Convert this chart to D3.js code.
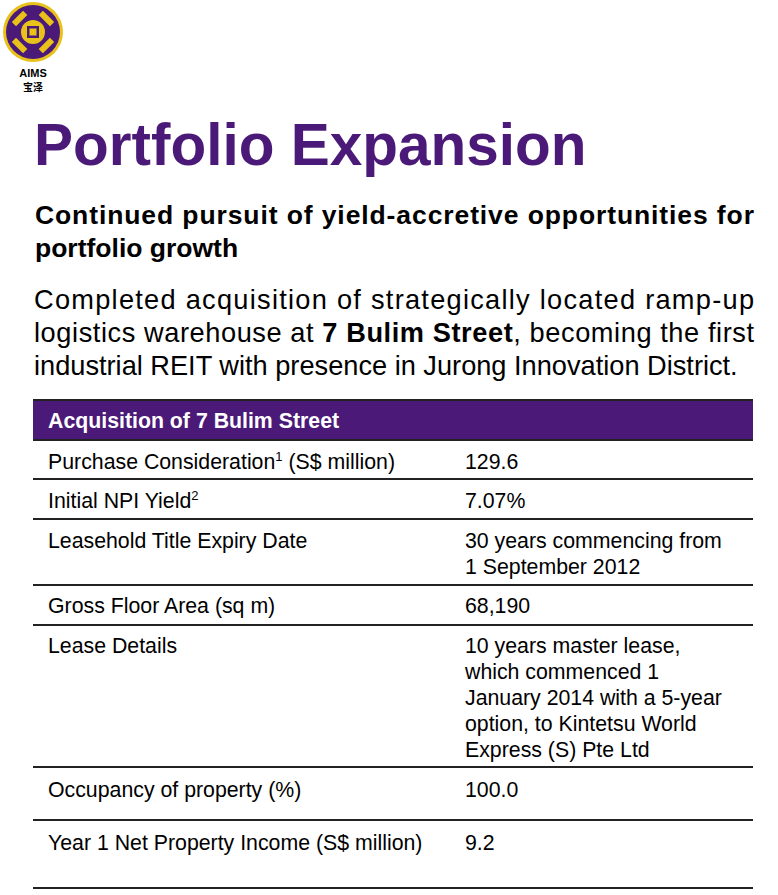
<!DOCTYPE html>
<html><head><meta charset="utf-8">
<script src="https://cdn.jsdelivr.net/npm/d3@7"></script>
<style>body{margin:0;background:#fff}text{font-family:"Liberation Sans",Arial,sans-serif}</style>
</head><body><div id="chart"></div>
<script>
// table content
var labels = [["Purchase Consideration", "1", " (S$ million)"], ["Initial NPI Yield", "2", ""], ["Leasehold Title Expiry Date", "", ""],
  ["Gross Floor Area (sq m)", "", ""], ["Lease Details", "", ""], ["Occupancy of property (%)", "", ""], ["Year 1 Net Property Income (S$ million)", "", ""]];
var values = [["129.6"], ["7.07%"], ["30 years commencing from", "1 September 2012"], ["68,190"],
  ["10 years master lease,", "which commenced 1", "January 2014 with a 5-year", "option, to Kintetsu World", "Express (S) Pte Ltd"],
  ["100.0"], ["9.2"]];
var rowBottoms = [479, 519, 585, 625, 767, 820, 888];
var textTops = [469, 508, 548, 613, 653, 797, 850];

var purple = "#4B1A78";
var fs = 21.3;
var svg = d3.select("#chart").append("svg").attr("width", 778).attr("height", 895);

// logo
var logo = svg.append("g");
logo.append("circle").attr("cx", 33).attr("cy", 32).attr("r", 30).attr("fill", "#E8C21A");
logo.append("circle").attr("cx", 33).attr("cy", 32).attr("r", 27).attr("fill", purple);
logo.append("circle").attr("cx", 33).attr("cy", 32).attr("r", 12).attr("fill", "#E8C21A");
logo.append("rect").attr("x", 27).attr("y", 26).attr("width", 12).attr("height", 12).attr("fill", purple);
logo.append("rect").attr("x", 29.5).attr("y", 28.5).attr("width", 7).attr("height", 7).attr("fill", "#E8C21A");
[-45, 45, 135, 225].forEach(function(a) {
  logo.append("rect").attr("x", -8).attr("y", -3).attr("width", 16).attr("height", 6).attr("fill", "#E8C21A")
    .attr("transform", "translate(33,32) rotate(" + a + ") translate(0,-19)");
});
svg.append("text").attr("x", 33).attr("y", 77).attr("text-anchor", "middle").attr("font-weight", "bold").attr("font-size", 11).text("AIMS");
svg.append("text").attr("x", 33).attr("y", 91).attr("text-anchor", "middle").attr("font-weight", "bold").attr("font-size", 10)
  .style("font-family", "Noto Sans CJK SC").text("宝泽");

// title
svg.append("text").attr("x", 34).attr("y", 165).attr("fill", purple).attr("font-weight", "bold").attr("font-size", 58.5).text("Portfolio Expansion");
svg.append("text").attr("x", 35).attr("y", 224).attr("font-weight", "bold").attr("font-size", 26.5)
  .attr("textLength", 719).attr("lengthAdjust", "spacing").text("Continued pursuit of yield-accretive opportunities for");
svg.append("text").attr("x", 35).attr("y", 257).attr("font-weight", "bold").attr("font-size", 26.5).text("portfolio growth");

svg.append("text").attr("x", 34).attr("y", 309).attr("font-size", 27.2).attr("textLength", 720).attr("lengthAdjust", "spacing")
  .text("Completed acquisition of strategically located ramp-up");
var p2 = svg.append("text").attr("x", 34).attr("y", 342).attr("font-size", 27.2).attr("textLength", 720).attr("lengthAdjust", "spacing");
p2.append("tspan").text("logistics warehouse at ");
p2.append("tspan").attr("font-weight", "bold").text("7 Bulim Street");
p2.append("tspan").text(", becoming the first");
svg.append("text").attr("x", 34).attr("y", 375).attr("font-size", 27.2).text("industrial REIT with presence in Jurong Innovation District.");

// table
var x0 = 33, x1 = 753, col2 = 465;
svg.append("line").attr("x1", x0).attr("x2", x1).attr("y1", 400).attr("y2", 400).attr("stroke", "#222").attr("stroke-width", 2);
svg.append("rect").attr("x", x0).attr("y", 401).attr("width", x1 - x0).attr("height", 38).attr("fill", purple);
svg.append("line").attr("x1", x0).attr("x2", x1).attr("y1", 440).attr("y2", 440).attr("stroke", "#222").attr("stroke-width", 2);
svg.append("text").attr("x", 48).attr("y", 428).attr("fill", "#fff").attr("font-weight", "bold").attr("font-size", fs).text("Acquisition of 7 Bulim Street");

var rows = svg.selectAll("g.row").data(labels).enter().append("g");
rows.append("line").attr("x1", x0).attr("x2", x1).attr("y1", function(d, i) { return rowBottoms[i]; })
  .attr("y2", function(d, i) { return rowBottoms[i]; }).attr("stroke", "#222").attr("stroke-width", 2);
var lt = rows.append("text").attr("x", 48).attr("y", function(d, i) { return textTops[i]; }).attr("font-size", fs);
lt.append("tspan").text(function(d) { return d[0]; });
lt.append("tspan").attr("font-size", 13).attr("dy", -8).text(function(d) { return d[1]; });
lt.append("tspan").attr("dy", function(d) { return d[1] ? 8 : 0; }).text(function(d) { return d[2]; });
rows.each(function(d, i) {
  d3.select(this).selectAll("text.v").data(values[i]).enter().append("text").attr("class", "v")
    .attr("x", col2).attr("y", function(v, j) { return textTops[i] + j * 26; }).attr("font-size", fs).text(function(v) { return v; });
});
</script></body></html>
